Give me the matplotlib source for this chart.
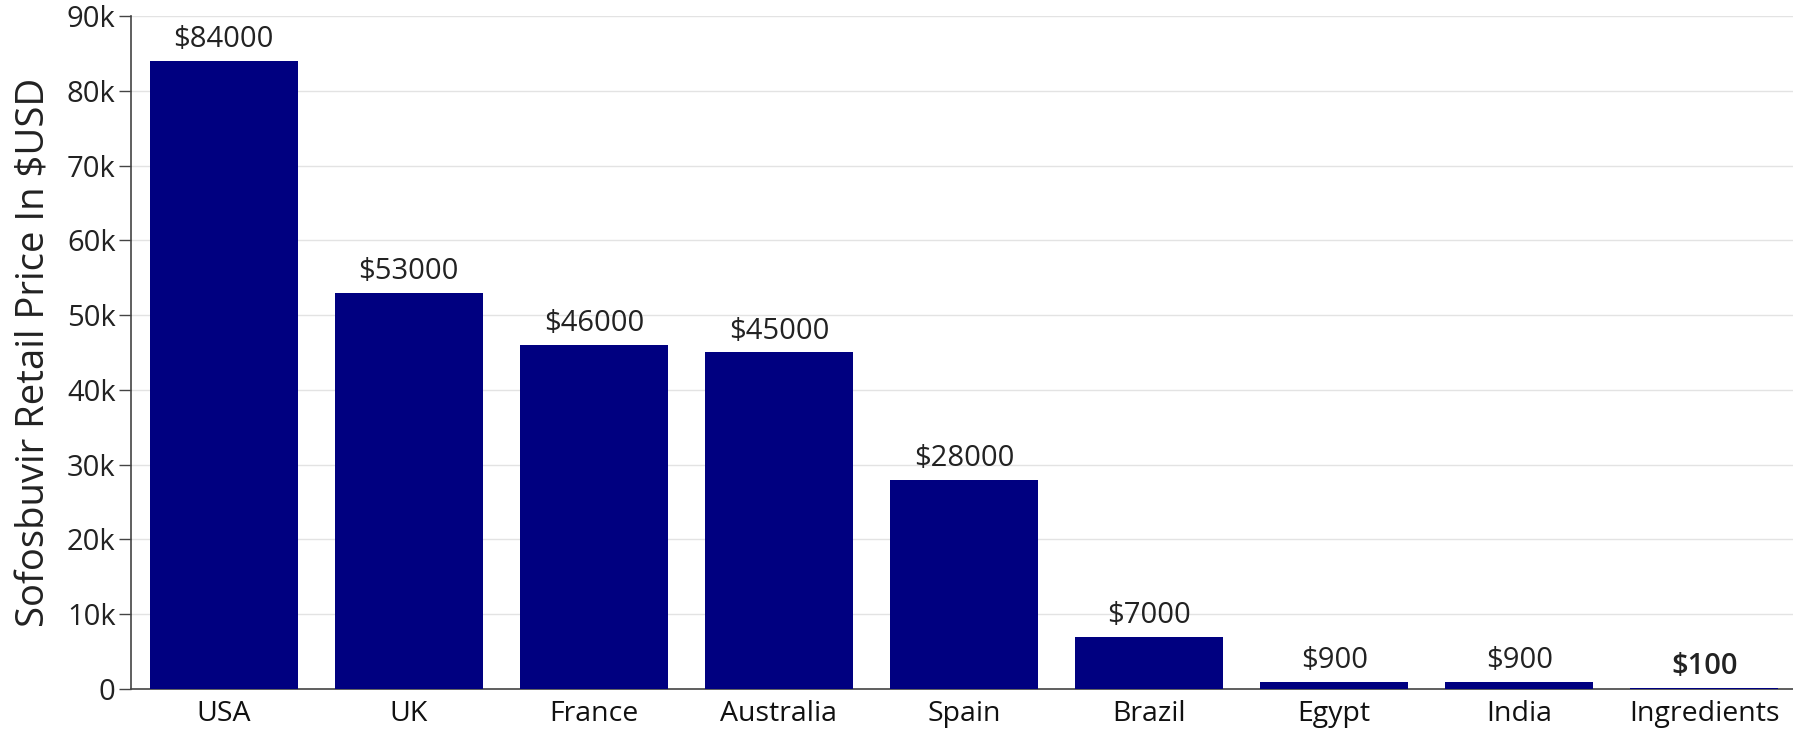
import matplotlib.pyplot as plt
from matplotlib.ticker import FuncFormatter

# Chart data
countries = ["USA", "UK", "France", "Australia", "Spain", "Brazil", "Egypt", "India", "Ingredients"]
prices = [84000, 53000, 46000, 45000, 28000, 7000, 900, 900, 100]
price_labels = ["$84000", "$53000", "$46000", "$45000", "$28000", "$7000", "$900", "$900", "$100"]
y_ticks = [0, 10000, 20000, 30000, 40000, 50000, 60000, 70000, 80000, 90000]

plt.rcParams["font.family"] = ["Open Sans", "DejaVu Sans"]

fig = plt.figure(figsize=(17.93, 7.29), dpi=100)
ax = fig.add_axes([131 / 1793, 1 - 689 / 729, 1666 / 1793, 673 / 729])

x = range(len(countries))
bars = ax.bar(x, prices, width=0.8, color="#000080", zorder=3)

# Value labels above bars
for bar, label in zip(bars, price_labels):
    weight = "semibold" if label == "$100" else "normal"
    ax.annotate(label, (bar.get_x() + bar.get_width() / 2, bar.get_height()),
                xytext=(0, 5), textcoords="offset points", ha="center", va="bottom",
                fontsize=21, color="#222222", fontweight=weight)

ax.set_xlim(-0.5, len(countries) - 0.5)
ax.set_ylim(0, 90000)
ax.set_yticks(y_ticks)
ax.yaxis.set_major_formatter(FuncFormatter(lambda v, _: "0" if v == 0 else f"{int(v / 1000)}k"))
ax.set_xticks(list(x))
ax.set_xticklabels(countries)

ax.tick_params(axis="y", length=9, width=1, color="#444444", labelsize=21, labelcolor="#222222", pad=2)
ax.tick_params(axis="x", length=0, labelsize=20.5, labelcolor="#111111", pad=8)

ax.set_ylabel("Sofosbuvir Retail Price In $USD", fontsize=27.5, color="#222222", labelpad=10)

ax.grid(axis="y", color="#e3e3e3", linewidth=1, zorder=0)
for side in ["top", "right"]:
    ax.spines[side].set_visible(False)
for side in ["left", "bottom"]:
    ax.spines[side].set_color("#444444")
    ax.spines[side].set_linewidth(1.2)
    ax.spines[side].set_zorder(2)

fig.savefig("out.png", dpi=100)
